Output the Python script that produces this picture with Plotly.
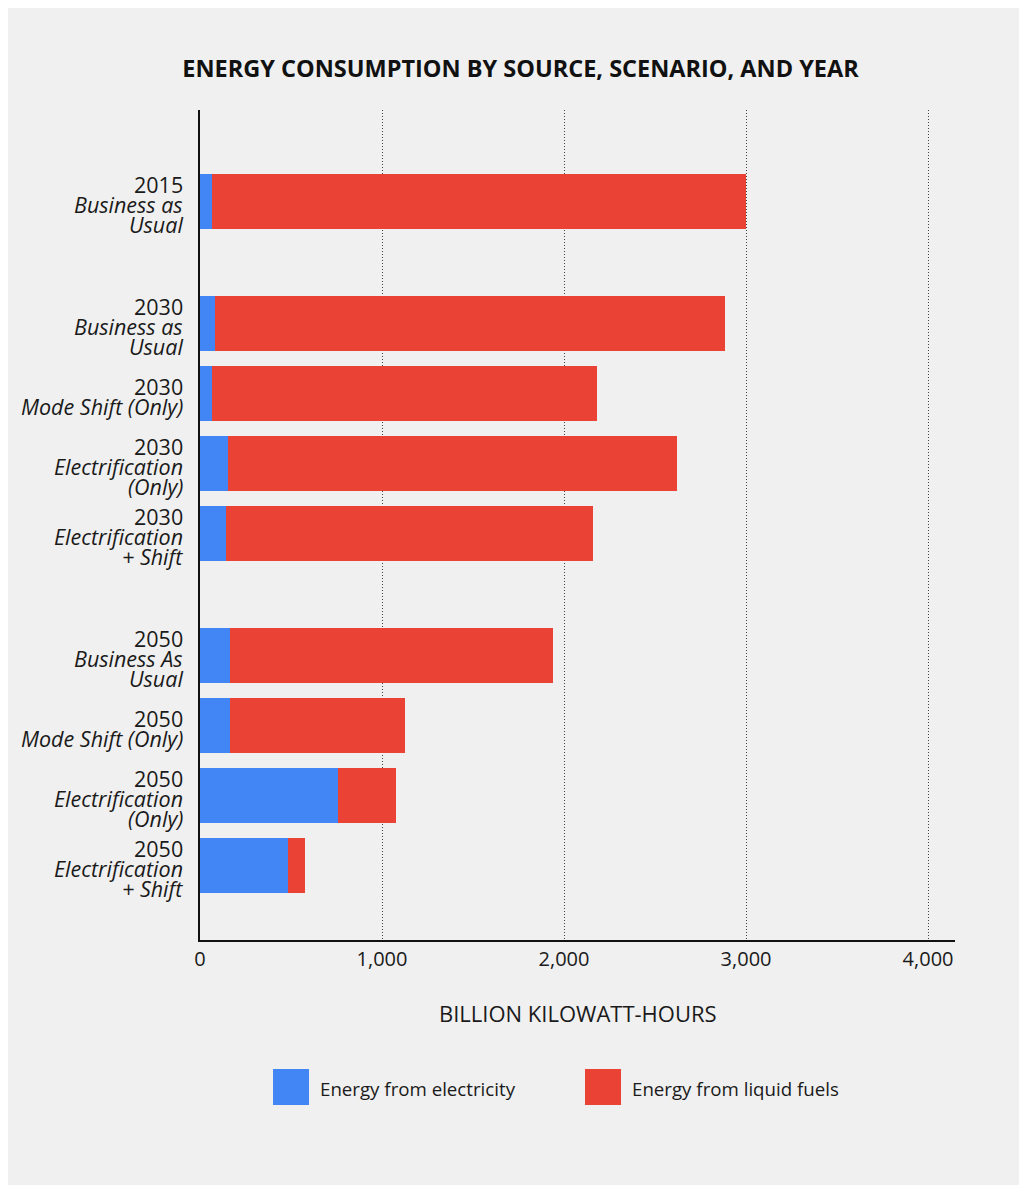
import plotly.graph_objects as go

# ---- data ----
years = ["2015", "2030", "2030", "2030", "2030", "2050", "2050", "2050", "2050"]
scenarios = [
    ["Business as", "Usual"],
    ["Business as", "Usual"],
    ["Mode Shift (Only)"],
    ["Electrification", "(Only)"],
    ["Electrification", "+ Shift"],
    ["Business As", "Usual"],
    ["Mode Shift (Only)"],
    ["Electrification", "(Only)"],
    ["Electrification", "+ Shift"],
]
electricity = [66, 82, 66, 154, 143, 165, 165, 758, 484]
liquid_fuels = [2934, 2803, 2115, 2467, 2016, 1775, 961, 319, 93]
tick_vals = [0, 1000, 2000, 3000, 4000]
tick_text = ["0", "1,000", "2,000", "3,000", "4,000"]

BLUE = "#4285f4"
RED = "#ea4335"
BG = "#f0f0f0"
FONT = "Open Sans"
TXT = "#1a1a1a"

# y positions: one slot per bar, an extra gap when the year changes
GAP = 0.743
pos = []
p = 0.0
for i, yr in enumerate(years):
    if i > 0:
        p += 1.0
        if yr != years[i - 1]:
            p += GAP
    pos.append(p)

OFF = 8  # page body margin
W, H = 1027 - OFF, 1185 - OFF
L, R, T, B = 200 - OFF, 955 - OFF, 110 - OFF, 940 - OFF  # plot area in figure pixels
PX_PER_UNIT = 70.0
y_top = pos[0] - (201.5 - 110) / PX_PER_UNIT
y_bot = y_top + (B - T) / PX_PER_UNIT


def px2x(px):
    return (px - OFF - L) / (R - L)


def px2y(py):
    return (B - (py - OFF)) / (B - T)


fig = go.Figure()
fig.add_trace(go.Bar(
    y=pos, x=electricity, orientation="h", name="Energy from electricity",
    marker=dict(color=BLUE, line=dict(width=0)), width=0.786,
    hovertemplate="%{x}<extra>Electricity</extra>",
))
fig.add_trace(go.Bar(
    y=pos, x=liquid_fuels, orientation="h", name="Energy from liquid fuels",
    marker=dict(color=RED, line=dict(width=0)), width=0.786,
    hovertemplate="%{x}<extra>Liquid fuels</extra>",
))

annotations = []
LINE = 20.0
for yv, yr, sc in zip(pos, years, scenarios):
    lines = [(yr, False)] + [(s, True) for s in sc]
    n = len(lines)
    for k, (txt, ital) in enumerate(lines):
        off = (k - (n - 1) / 2.0) * LINE + 2.5
        annotations.append(dict(
            x=0, xref="paper", xshift=-15, xanchor="right",
            y=yv, yref="y", yshift=-off, yanchor="middle",
            text=("<i>%s</i>" % txt) if ital else txt,
            showarrow=False, font=dict(family=FONT, size=21.5, color=TXT),
        ))

# axis title
annotations.append(dict(
    x=0.5, xref="paper", y=px2y(1013), yref="paper", xanchor="center", yanchor="middle",
    text="BILLION KILOWATT-HOURS", showarrow=False,
    font=dict(family=FONT, size=22, color=TXT),
))

# custom legend
shapes = []
legend_items = [("Energy from electricity", BLUE, 273), ("Energy from liquid fuels", RED, 585)]
for name, col, x0 in legend_items:
    shapes.append(dict(
        type="rect", xref="paper", yref="paper",
        x0=px2x(x0), x1=px2x(x0 + 36), y0=px2y(1105), y1=px2y(1069),
        fillcolor=col, line=dict(width=0),
    ))
    annotations.append(dict(
        x=px2x(x0 + 45), xref="paper", y=px2y(1088), yref="paper",
        xanchor="left", yanchor="middle", text=name, showarrow=False,
        font=dict(family=FONT, size=18.7, color=TXT),
    ))

fig.update_layout(
    width=W, height=H,
    margin=dict(l=L, r=W - R, t=T, b=H - B, pad=0),
    paper_bgcolor=BG, plot_bgcolor=BG,
    barmode="stack", bargap=0, showlegend=False,
    title=dict(
        text="<b>ENERGY CONSUMPTION BY SOURCE, SCENARIO, AND YEAR</b>",
        x=(520.5 - OFF) / W, xanchor="center", y=1 - (68.5 - OFF) / H, yanchor="middle",
        font=dict(family=FONT, size=23.5, color="#111111"),
    ),
    xaxis=dict(
        range=[0, 4148], tickvals=tick_vals, ticktext=tick_text,
        showgrid=True, gridcolor="#444444", griddash="1px,2px", gridwidth=1,
        zeroline=False, showline=True, linecolor="#111111", linewidth=1.5,
        ticks="", ticklen=0, tickfont=dict(family=FONT, size=20, color=TXT),
        fixedrange=True,
    ),
    yaxis=dict(
        range=[y_bot, y_top], showticklabels=False, showgrid=False,
        zeroline=False, showline=True, linecolor="#111111", linewidth=1.5,
        ticks="", fixedrange=True,
    ),
    shapes=shapes, annotations=annotations,
    font=dict(family=FONT),
)

fig.write_html("out.html")
